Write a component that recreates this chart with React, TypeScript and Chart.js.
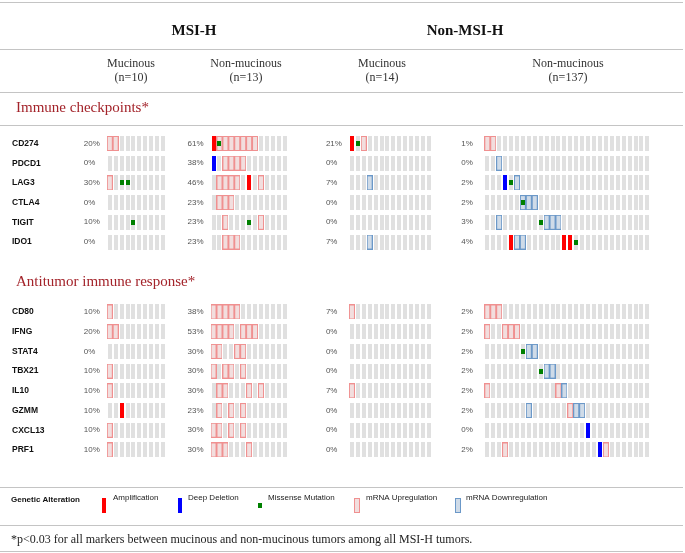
import React, { useEffect, useRef } from "react";
import { Chart, registerables } from "chart.js";

Chart.register(...registerables);

// ---------- data ----------
const supergroups = ["MSI-H", "Non-MSI-H"];
const groupNames = ["Mucinous", "Non-mucinous", "Mucinous", "Non-mucinous"];
const groupN = [10, 13, 14, 137];
const groupColumns = [10, 13, 14, 28];
const sectionTitles = ["Immune checkpoints*", "Antitumor immune response*"];
const checkpointGenes = ["CD274", "PDCD1", "LAG3", "CTLA4", "TIGIT", "IDO1"];
const antitumorGenes = ["CD80", "IFNG", "STAT4", "TBX21", "IL10", "GZMM", "CXCL13", "PRF1"];
const checkpointPct = [
  [20, 61, 21, 1],
  [0, 38, 0, 0],
  [30, 46, 7, 2],
  [0, 23, 0, 2],
  [10, 23, 0, 3],
  [0, 23, 7, 4],
];
const antitumorPct = [
  [10, 38, 7, 2],
  [20, 53, 0, 2],
  [0, 30, 0, 2],
  [10, 30, 0, 2],
  [10, 30, 7, 2],
  [10, 23, 0, 2],
  [10, 30, 0, 0],
  [10, 30, 0, 2],
];
// [gene, group, columns]
type Alt = [string, number, number[]];
const amplification: Alt[] = [
  ["GZMM", 0, [2]],
  ["CD274", 1, [0]],
  ["LAG3", 1, [6]],
  ["CD274", 2, [0]],
  ["IDO1", 3, [4, 13, 14]],
];
const deepDeletion: Alt[] = [
  ["PDCD1", 1, [0]],
  ["LAG3", 3, [3]],
  ["CXCL13", 3, [17]],
  ["PRF1", 3, [19]],
];
const missenseMutation: Alt[] = [
  ["LAG3", 0, [2, 3]],
  ["TIGIT", 0, [4]],
  ["CD274", 1, [1]],
  ["TIGIT", 1, [6]],
  ["CD274", 2, [1]],
  ["LAG3", 3, [4]],
  ["CTLA4", 3, [6]],
  ["TIGIT", 3, [9]],
  ["IDO1", 3, [15]],
  ["STAT4", 3, [6]],
  ["TBX21", 3, [9]],
];
const mrnaUp: Alt[] = [
  ["CD274", 0, [0, 1]],
  ["LAG3", 0, [0]],
  ["CD80", 0, [0]],
  ["IFNG", 0, [0, 1]],
  ["TBX21", 0, [0]],
  ["IL10", 0, [0]],
  ["CXCL13", 0, [0]],
  ["PRF1", 0, [0]],
  ["CD274", 1, [1, 2, 3, 4, 5, 6, 7]],
  ["PDCD1", 1, [2, 3, 4, 5]],
  ["LAG3", 1, [1, 2, 3, 4, 8]],
  ["CTLA4", 1, [1, 2, 3]],
  ["TIGIT", 1, [2, 8]],
  ["IDO1", 1, [2, 3, 4]],
  ["CD80", 1, [0, 1, 2, 3, 4]],
  ["IFNG", 1, [0, 1, 2, 3, 5, 6, 7]],
  ["STAT4", 1, [0, 1, 4, 5]],
  ["TBX21", 1, [0, 2, 3, 5]],
  ["IL10", 1, [1, 2, 6, 8]],
  ["GZMM", 1, [1, 3, 5]],
  ["CXCL13", 1, [0, 1, 3, 5]],
  ["PRF1", 1, [0, 1, 2, 6]],
  ["CD274", 2, [2]],
  ["CD80", 2, [0]],
  ["IL10", 2, [0]],
  ["CD274", 3, [0, 1]],
  ["CD80", 3, [0, 1, 2]],
  ["IFNG", 3, [0, 3, 4, 5]],
  ["IL10", 3, [0, 12]],
  ["GZMM", 3, [14]],
  ["PRF1", 3, [3, 20]],
];
const mrnaDown: Alt[] = [
  ["LAG3", 2, [3]],
  ["IDO1", 2, [3]],
  ["PDCD1", 3, [2]],
  ["LAG3", 3, [5]],
  ["CTLA4", 3, [6, 7, 8]],
  ["TIGIT", 3, [2, 10, 11, 12]],
  ["IDO1", 3, [5, 6]],
  ["STAT4", 3, [7, 8]],
  ["TBX21", 3, [10, 11]],
  ["IL10", 3, [13]],
  ["GZMM", 3, [7, 15, 16]],
];
const legendLabels = ["Amplification", "Deep Deletion", "Missense Mutation", "mRNA Upregulation", "mRNA Downregulation"];
const footnote = "*p<0.03 for all markers between mucinous and non-mucinous tumors among all MSI-H tumors.";

// ---------- layout ----------
const W = 685;
const H = 553;
const CELL = 6; // px per column
const ROW = 20; // px per row
const FIRST_ROW_PX = 141.5;
const ANTITUMOR_OFFSET = 8.55; // rows
const groupFirstCellPx = [107, 212, 352, 489];
const groupStart = groupFirstCellPx.map((p) => p / CELL);

const SERIF = "'Liberation Serif', 'Times New Roman', serif";
const SANS = "'Liberation Sans', Arial, sans-serif";

function rowOf(gene: string): number {
  const i = checkpointGenes.indexOf(gene);
  if (i >= 0) return i;
  return ANTITUMOR_OFFSET + antitumorGenes.indexOf(gene);
}

function pointsOf(list: Alt[]) {
  const pts: { x: number; y: number }[] = [];
  list.forEach(([gene, g, cols]) => cols.forEach((c) => pts.push({ x: groupStart[g] + c, y: rowOf(gene) })));
  return pts;
}

function makeCell(w: number, h: number, fill: string | null, stroke?: string, interior?: string) {
  const c = document.createElement("canvas");
  c.width = w;
  c.height = h;
  const g = c.getContext("2d")!;
  if (fill) {
    g.fillStyle = fill;
    g.fillRect(0, 0, w, h);
  }
  if (stroke) {
    if (interior) {
      g.fillStyle = interior;
      g.fillRect(1, 1, w - 2, h - 2);
    }
    g.strokeStyle = stroke;
    g.lineWidth = 1;
    g.strokeRect(0.5, 0.5, w - 1, h - 1);
  }
  return c;
}

export default function App() {
  const ref = useRef<HTMLCanvasElement>(null);
  useEffect(() => {
    document.body.style.margin = "0";
    const canvas = ref.current!;
    const grayImg = makeCell(4, 15, "#e0e0e0");
    const ampImg = makeCell(4, 15, "#ff0000");
    const delImg = makeCell(4, 15, "#0000ff");
    const mutImg = makeCell(4, 5, "#008000");
    const upImg = makeCell(6, 15, null, "#f09090", "#f2dede");
    const downImg = makeCell(6, 15, null, "#6b98c8", "#cfdbe8");

    const background: { x: number; y: number }[] = [];
    [...checkpointGenes, ...antitumorGenes].forEach((gene) => {
      groupColumns.forEach((n, g) => {
        for (let c = 0; c < n; c++) background.push({ x: groupStart[g] + c, y: rowOf(gene) });
      });
    });

    const ds = (label: string, data: any[], img: HTMLCanvasElement, order: number) => ({
      label,
      data,
      pointStyle: img,
      pointRadius: 3,
      pointHoverRadius: 3,
      showLine: false,
      order,
    });

    const decorations = {
      id: "decorations",
      afterDraw(chart: any) {
        const ctx: CanvasRenderingContext2D = chart.ctx;
        const xs = chart.scales.x;
        const ys = chart.scales.y;
        ctx.save();
        // rules
        ctx.fillStyle = "#c4c4c4";
        [2, 49, 92, 125, 487, 525, 551].forEach((y) => ctx.fillRect(0, y, W - 2, 1));

        // super headers
        ctx.fillStyle = "#111";
        ctx.textAlign = "center";
        ctx.textBaseline = "middle";
        ctx.font = `bold 15px ${SERIF}`;
        ctx.fillText(supergroups[0], 194, 31);
        ctx.fillText(supergroups[1], 465, 31);

        // group headers
        const headerCenters = [131, 246, 382, 568];
        ctx.font = `12px ${SERIF}`;
        ctx.fillStyle = "#333";
        groupNames.forEach((name, g) => {
          ctx.fillText(name, headerCenters[g], 64);
          ctx.fillText(`(n=${groupN[g]})`, headerCenters[g], 78);
        });

        // section titles
        ctx.textAlign = "left";
        ctx.fillStyle = "#a3232a";
        ctx.font = `15px ${SERIF}`;
        ctx.fillText(sectionTitles[0], 16, 108);
        ctx.fillText(sectionTitles[1], 16, 282);

        // gene labels & percentages
        const drawRows = (genes: string[], pct: number[][]) => {
          genes.forEach((gene, i) => {
            const y = ys.getPixelForValue(rowOf(gene));
            ctx.font = `bold 8.5px ${SANS}`;
            ctx.fillStyle = "#111";
            ctx.fillText(gene, 12, y);
            ctx.font = `8px ${SANS}`;
            ctx.fillStyle = "#555";
            pct[i].forEach((p, g) => {
              ctx.fillText(`${p}%`, xs.getPixelForValue(groupStart[g]) - 26, y);
            });
          });
        };
        drawRows(checkpointGenes, checkpointPct);
        drawRows(antitumorGenes, antitumorPct);

        // legend
        ctx.font = `bold 8px ${SANS}`;
        ctx.fillStyle = "#111";
        ctx.fillText("Genetic Alteration", 11, 500);
        const legendImgs = [ampImg, delImg, mutImg, upImg, downImg];
        const symX = [104, 180, 260, 357, 458];
        const textX = [113, 188, 268, 366, 466];
        ctx.font = `8px ${SANS}`;
        ctx.fillStyle = "#222";
        legendImgs.forEach((img, i) => {
          ctx.drawImage(img, symX[i] - img.width / 2, 505.5 - img.height / 2);
          ctx.fillText(legendLabels[i], textX[i], 498);
        });

        // footnote
        ctx.font = `12px ${SERIF}`;
        ctx.fillStyle = "#222";
        ctx.fillText(footnote, 11, 540);
        ctx.restore();
      },
    };

    const chart = new Chart(canvas, {
      type: "scatter",
      data: {
        datasets: [
          ds("cell", background, grayImg, 5),
          ds("Amplification", pointsOf(amplification), ampImg, 4),
          ds("Deep Deletion", pointsOf(deepDeletion), delImg, 4),
          ds("mRNA Upregulation", pointsOf(mrnaUp), upImg, 3),
          ds("mRNA Downregulation", pointsOf(mrnaDown), downImg, 3),
          ds("Missense Mutation", pointsOf(missenseMutation), mutImg, 1),
        ] as any,
      },
      options: {
        animation: false,
        responsive: false,
        devicePixelRatio: 1,
        events: [],
        layout: { padding: 0 },
        plugins: { legend: { display: false }, tooltip: { enabled: false } },
        scales: {
          x: { type: "linear", display: false, min: 0, max: W / CELL },
          y: {
            type: "linear",
            display: false,
            reverse: true,
            min: -FIRST_ROW_PX / ROW,
            max: (H - FIRST_ROW_PX) / ROW,
          },
        },
      },
      plugins: [decorations],
    });
    return () => chart.destroy();
  }, []);

  return (
    <div style={{ width: W, height: H, background: "#fff" }}>
      <canvas ref={ref} width={W} height={H} style={{ width: W, height: H, display: "block" }} />
    </div>
  );
}
